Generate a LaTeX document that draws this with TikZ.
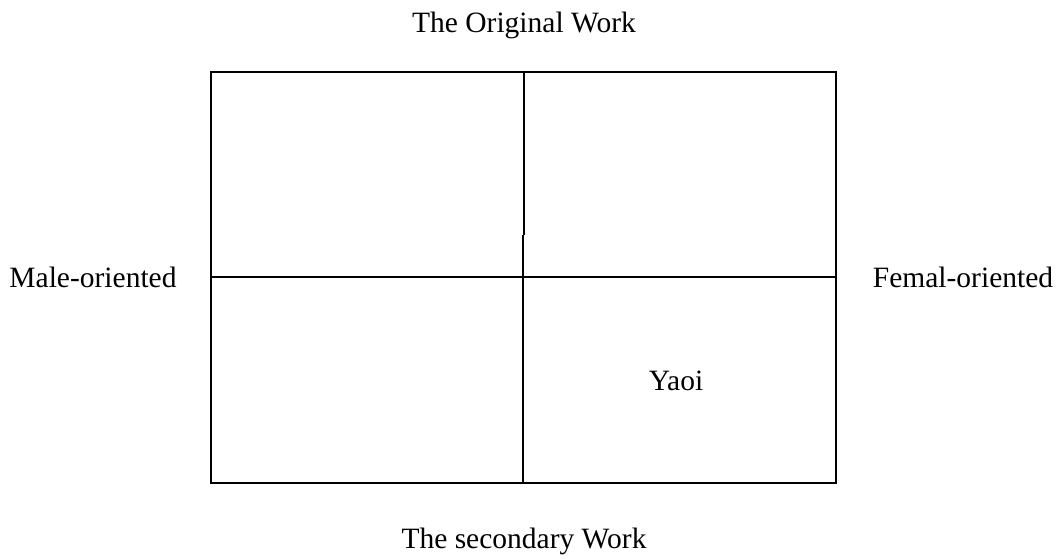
\documentclass[tikz,border=0pt]{standalone}
\usepackage{fontspec}
\setmainfont{Liberation Serif}
\begin{document}
\begin{tikzpicture}[x=1pt,y=-1pt,
  lbl/.style={font=\fontsize{29.5}{34}\selectfont, inner sep=0pt},
  frame/.style={line width=2pt, black}]
\useasboundingbox (0,0) rectangle (1058,558);
\coordinate (tl) at (211,72);
\coordinate (br) at (836,483);
\draw[frame] (tl) rectangle (br);
\coordinate (ml) at (211,277);
\coordinate (mr) at (836,277);
\draw[frame] (ml) -- (mr);
\coordinate (vt) at (523.5,72);
\coordinate (vj1) at (523.5,235);
\coordinate (vj2) at (522.5,235);
\coordinate (vb) at (522.5,483);
\draw[frame] (vt) -- (vj1);
\draw[frame] (vj2) -- (vb);
\node[lbl] (orig) at (524,25) {The Original Work};
\node[lbl] (sec) at (524,541) {The secondary Work};
\node[lbl] (male) at (93,277) {Male-oriented};
\node[lbl] (fem) at (963,277) {Femal-oriented};
\node[lbl] (yaoi) at (676,381) {Yaoi};
\end{tikzpicture}
\end{document}
